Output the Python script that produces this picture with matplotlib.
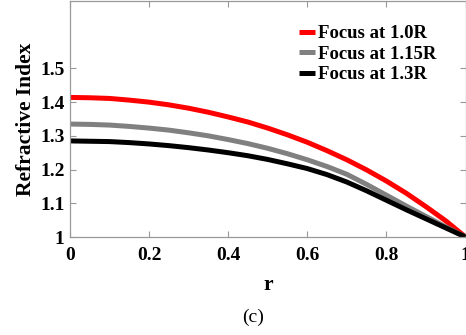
import numpy as np
import matplotlib
matplotlib.use('Agg')
from matplotlib import pyplot as plt

plt.rcParams['font.family'] = ['Liberation Serif', 'DejaVu Serif']
plt.rcParams['font.weight'] = 'bold'

r = np.arange(0, 1.0001, 0.05)
n_10 = [1.414, 1.413, 1.411, 1.406, 1.400, 1.392, 1.382, 1.370, 1.356, 1.341, 1.323,
        1.303, 1.281, 1.256, 1.229, 1.199, 1.166, 1.130, 1.090, 1.048, 1.000]
n_115 = [1.335, 1.334, 1.332, 1.328, 1.323, 1.317, 1.309, 1.300, 1.289, 1.277, 1.263,
         1.247, 1.229, 1.209, 1.186, 1.156, 1.124, 1.092, 1.061, 1.030, 1.000]
n_13 = [1.285, 1.284, 1.283, 1.280, 1.276, 1.271, 1.265, 1.258, 1.250, 1.241, 1.230,
        1.217, 1.203, 1.185, 1.163, 1.137, 1.109, 1.081, 1.054, 1.027, 1.000]
labels = ['Focus at 1.0R', 'Focus at 1.15R', 'Focus at 1.3R']
colors = ['#ff0000', '#808080', '#000000']

fig = plt.figure(figsize=(4.66, 3.35), dpi=100)
ax = fig.add_axes([70 / 466, 98 / 335, 395.5 / 466, 236 / 335])

for n, lab, c in zip([n_10, n_115, n_13], labels, colors):
    ax.plot(r, n, color=c, lw=3.6, label=lab, solid_capstyle='butt')

ax.set_xlim(0, 1)
ax.set_ylim(1, 1.7)
ax.set_xticks([0, 0.2, 0.4, 0.6, 0.8, 1])
ax.set_xticklabels(['0', '0.2', '0.4', '0.6', '0.8', '1'])
ax.set_yticks([1, 1.1, 1.2, 1.3, 1.4, 1.5])
ax.set_yticklabels(['1', '1.1', '1.2', '1.3', '1.4', '1.5'])
ax.tick_params(axis='both', direction='in', top=True, right=True, length=4, width=0.8,
               color='#999999', labelsize=14)
ax.tick_params(axis='x', pad=7)
ax.tick_params(axis='y', pad=4)
for s in ax.spines.values():
    s.set_color('#999999')
    s.set_linewidth(0.9)

ax.set_xlabel('r', fontsize=15.5, fontweight='bold', labelpad=8)
ax.set_ylabel('Refractive Index', fontsize=15.5, fontweight='bold', labelpad=3)

leg = ax.legend(loc='upper left', bbox_to_anchor=(0.578, 0.897), frameon=False,
                fontsize=13.5, handlelength=0.9, handletextpad=0.12, labelspacing=0.18,
                borderaxespad=0, borderpad=0)
for t in leg.get_texts():
    t.set_fontweight('bold')

fig.text(253 / 466, 1 - 317 / 335, '(c)', ha='center', va='center',
         fontsize=14, fontweight='normal')

fig.savefig('out.png', dpi=100)
